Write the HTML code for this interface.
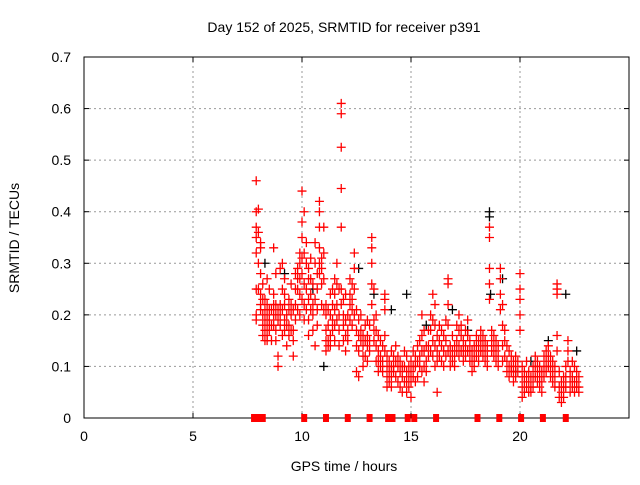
<!DOCTYPE html>
<html><head><meta charset="utf-8"><style>
body{margin:0;background:#fff;}
svg text{font-family:"Liberation Sans",sans-serif;font-size:14px;fill:#000;}
</style></head><body>
<svg id="chart" width="640" height="480" xmlns="http://www.w3.org/2000/svg">
<rect width="640" height="480" fill="#fff"/>
<text x="344" y="32" text-anchor="middle">Day 152 of 2025, SRMTID for receiver p391</text>
<text x="344" y="471" text-anchor="middle">GPS time / hours</text>
<text transform="translate(19,238) rotate(-90)" text-anchor="middle">SRMTID / TECUs</text>
<g id="grid"></g><g id="axes"></g><g id="marks"></g>
</svg>
<script>
const xTicks=[0,5,10,15,20,25];
const xTickLabels=["0","5","10","15","20",""];
const yTicks=[0,0.1,0.2,0.3,0.4,0.5,0.6,0.7];
const yTickLabels=["0","0.1","0.2","0.3","0.4","0.5","0.6","0.7"];
const groupTimes=[7.9,8.0,8.1,8.2,8.3,8.4,8.5,8.6,8.7,8.8,8.9,9.0,9.1,9.2,9.3,9.4,9.5,9.6,9.7,9.8,9.9,10.0,10.1,10.2,10.3,10.4,10.5,10.6,10.7,10.8,10.9,11.0,11.1,11.2,11.3,11.4,11.5,11.6,11.7,11.8,11.9,12.0,12.1,12.2,12.3,12.4,12.5,12.6,12.7,12.8,12.9,13.0,13.1,13.2,13.3,13.4,13.5,13.6,13.7,13.8,13.9,14.0,14.1,14.2,14.3,14.4,14.5,14.6,14.7,14.8,14.9,15.0,15.1,15.2,15.3,15.4,15.5,15.6,15.7,15.8,15.9,16.0,16.1,16.2,16.3,16.4,16.5,16.6,16.7,16.8,16.9,17.0,17.1,17.2,17.3,17.4,17.5,17.6,17.7,17.8,17.9,18.0,18.1,18.2,18.3,18.4,18.5,18.6,18.7,18.8,18.9,19.0,19.1,19.2,19.3,19.4,19.5,19.6,19.7,19.8,19.9,20.0,20.1,20.2,20.3,20.4,20.5,20.6,20.7,20.8,20.9,21.0,21.1,21.2,21.3,21.4,21.5,21.6,21.7,21.8,21.9,22.0,22.1,22.2,22.3,22.4,22.5,22.6,22.7];
const groupValues=[
[.46,.40,.37,.35,.32,.25,.20,.19],[.405,.36,.30,.25],[.34,.33,.28,.24,.22,.21],[.26,.23,.20,.18,.16],[.23,.21,.19,.17,.15],[.27,.22,.20,.18,.16,.15],[.25,.21,.19,.17],[.21,.18,.15],[.33,.24,.22,.20,.18],[.28,.22,.20,.17,.15],
[.21,.19,.12,.10],[.29,.22,.20,.18],[.30,.25,.21,.16],[.27,.24,.22,.19,.17],[.20,.18,.14],[.23,.21,.18,.16],[.26,.22,.20,.17],[.21,.17,.15,.12],[.28,.25,.22,.19],[.29,.27,.25,.21],
[.32,.30,.27,.24,.20],[.44,.38,.35,.31,.28,.23],[.40,.32,.26,.22,.19],[.34,.30,.25,.21],[.29,.27,.23,.19,.16],[.31,.27,.24,.21],[.26,.22,.20,.17],[.34,.30,.23,.14],[.28,.25,.21,.18],[.42,.40,.37,.33,.30,.28],
[.31,.29,.26,.22],[.37,.32,.27,.21],[.22,.20,.17,.15,.13],[.21,.18,.15,.14],[.24,.20,.16,.14],[.25,.22,.19,.17],[.27,.24,.21,.18,.15],[.30,.26,.22,.19],[.25,.20,.17,.14],[.61,.59,.525,.445,.37,.25,.22],
[.23,.20,.18,.15],[.24,.19,.16,.13],[.20,.17,.15],[.27,.24,.22,.19],[.26,.23,.21,.18],[.32,.29,.25,.20],[.21,.17,.14,.09],[.19,.16,.13,.08],[.20,.17,.15],[.16,.14,.12,.10],
[.18,.15,.12],[.19,.16,.14,.11],[.18,.15,.13],[.35,.33,.30,.26,.22],[.25,.19,.17,.15],[.20,.17,.14,.11],[.16,.13,.11,.09],[.15,.12,.10],[.14,.11,.09],[.24,.23,.21,.16,.13],
[.12,.10,.08,.06],[.11,.09,.07],[.13,.10,.08,.06],[.12,.10,.09],[.14,.11,.08],[.12,.10,.07],[.11,.09,.06],[.10,.08,.05],[.13,.10,.07],[.12,.09,.07,.05],
[.10,.08,.06],[.11,.09,.07,.04],[.13,.10,.08],[.12,.10,.07],[.14,.11,.08],[.15,.12,.10],[.20,.16,.13,.09],[.17,.13,.10,.07],[.14,.11,.09],[.17,.14,.12],
[.20,.17,.13],[.24,.19,.15,.12],[.22,.18,.14,.10],[.16,.13,.11,.05],[.18,.15,.12],[.17,.14,.11],[.16,.13,.10],[.19,.15,.12],[.27,.26,.22,.18,.13],[.14,.12,.10],
[.16,.13,.11],[.14,.12,.10],[.18,.15,.13],[.20,.17,.14,.12],[.18,.16,.13],[.15,.13,.11],[.17,.14,.12],[.19,.16,.13],[.15,.13,.11],[.13,.11,.09],
[.14,.12,.10],[.16,.14,.12],[.15,.13,.11],[.17,.15,.13],[.16,.14,.12],[.15,.13,.11],[.14,.12,.10],[.37,.35,.29,.26,.23],[.17,.15,.13],[.16,.14,.12],
[.15,.13,.11],[.14,.12,.10],[.29,.27,.24,.21],[.22,.18,.14,.11],[.17,.15,.12],[.14,.11,.09],[.13,.10,.08],[.12,.10,.09],[.11,.09,.07],[.12,.10,.08],
[.11,.09],[.28,.25,.23,.20,.17],[.10,.08,.06,.04],[.09,.07,.05],[.11,.08,.06],[.09,.07,.05],[.08,.06,.05],[.10,.08,.06],[.12,.10,.08],[.11,.09,.07],
[.10,.08,.06],[.09,.07,.05],[.12,.10,.08],[.13,.11,.09],[.14,.12,.10],[.12,.10,.08],[.11,.09,.07],[.10,.08,.06],[.26,.25,.24,.16,.13],[.09,.06,.04],
[.07,.05,.03],[.08,.06,.04],[.10,.08,.06],[.15,.13,.11],[.09,.07,.05],[.11,.08,.06],[.10,.07,.05],[.09,.07,.06],[.08,.06,.05]];
const blackTimes=[8.3,9.2,10.5,11.0,12.6,13.3,14.1,14.8,15.7,16.9,17.6,18.6,18.6,18.65,19.2,19.8,20.5,21.3,22.1,22.6];
const blackValues=[0.30,0.28,0.25,0.10,0.29,0.24,0.21,0.24,0.18,0.21,0.17,0.40,0.39,0.24,0.27,0.09,0.11,0.15,0.24,0.13];
const zeroTimes=[7.8,7.95,8.2,10.1,11.1,12.1,13.1,13.95,14.15,14.85,15.15,16.15,18.05,19.05,20.05,21.05,22.1];

const X0=84,X1=629,Y0=418,Y1=57;
const xs=t=>X0+t/25*(X1-X0);
const ys=v=>Y0-v/0.7*(Y0-Y1);
const NS="http://www.w3.org/2000/svg";
function mk(tag,attrs,parent){const e=document.createElementNS(NS,tag);for(const k in attrs)e.setAttribute(k,attrs[k]);parent.appendChild(e);return e;}
const grid=document.getElementById('grid'),axes=document.getElementById('axes'),marks=document.getElementById('marks');
xTicks.forEach((t,i)=>{
  if(t>0&&t<25){const g=mk('line',{x1:xs(t),x2:xs(t),y1:Y0,y2:Y1,stroke:'#999','stroke-dasharray':'2,3'},grid);
  
  }
  const tk=mk('text',{x:xs(t),y:Y0+23,'text-anchor':'middle'},axes);tk.textContent=xTickLabels[i];
  
  
  mk('line',{x1:xs(t),x2:xs(t),y1:Y0,y2:Y0-5,stroke:'#000'},axes);
  mk('line',{x1:xs(t),x2:xs(t),y1:Y1,y2:Y1+5,stroke:'#000'},axes);
});
yTicks.forEach((v,i)=>{
  if(v>0&&v<0.7){const g=mk('line',{x1:X0,x2:X1,y1:ys(v),y2:ys(v),stroke:'#999','stroke-dasharray':'2,3'},grid);
  
  }
  const tk=mk('text',{x:X0-13,y:ys(v)+5,'text-anchor':'end'},axes);tk.textContent=yTickLabels[i];
  
  
  mk('line',{x1:X0,x2:X0+5,y1:ys(v),y2:ys(v),stroke:'#000'},axes);
  mk('line',{x1:X1,x2:X1-5,y1:ys(v),y2:ys(v),stroke:'#000'},axes);
});
const frame=mk('rect',{x:X0,y:Y1,width:X1-X0,height:Y0-Y1,fill:'none',stroke:'#000'},axes);


function plus(t,v,color,name){
  const x=xs(t),y=ys(v);
  const p=mk('path',{d:`M${x-4.5},${y}H${x+4.5}M${x},${y-4.5}V${y+4.5}`,stroke:color,'stroke-width':1.3,fill:'none'},marks);
  
  
}
blackTimes.forEach((t,i)=>plus(t,blackValues[i],'#000','black-point'));
groupTimes.forEach((t,i)=>groupValues[i].forEach(v=>plus(t,v,'#f00','red-point')));
zeroTimes.forEach(t=>{
  const r=mk('rect',{x:xs(t)-3,y:ys(0)-4,width:6,height:8,fill:'#f00'},marks);
  
  
});
</script>
</body></html>
